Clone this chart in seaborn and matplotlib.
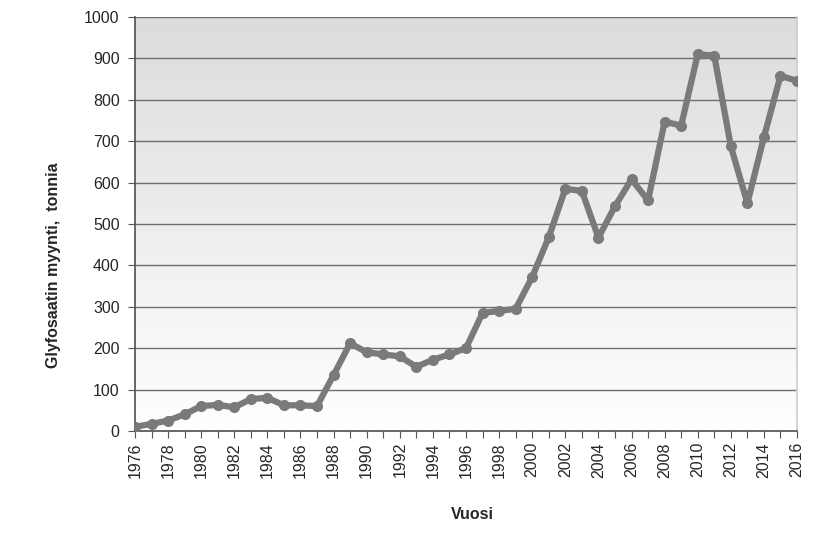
import numpy as np
import pandas as pd
import matplotlib
matplotlib.use("Agg")
import matplotlib.pyplot as plt
import seaborn as sns
from matplotlib.colors import LinearSegmentedColormap

years = list(range(1976, 2017))
sales = [10, 17, 25, 40, 60, 63, 57, 77, 80, 62,
         62, 60, 135, 212, 190, 185, 180, 155, 172, 185,
         200, 285, 290, 295, 372, 468, 585, 580, 467, 543,
         608, 557, 747, 738, 910, 907, 688, 550, 710, 858,
         846]
ytick_vals = list(range(0, 1001, 100))
xtick_labels = [str(y) for y in range(1976, 2017, 2)]

sns.set_theme(style="white")
plt.rcParams['font.family'] = ['Liberation Sans', 'DejaVu Sans']

df = pd.DataFrame({"Vuosi": years, "Myynti": sales})

fig = plt.figure(figsize=(8.28, 5.34), dpi=100)
ax = fig.add_axes([0.163, 0.193, 0.7996, 0.775])

# gradient background
cmap = LinearSegmentedColormap.from_list("bg", ["#ffffff", "#dcdcdc"])
grad = np.linspace(0, 1, 256).reshape(-1, 1)
ax.imshow(grad, extent=[1976, 2016, 0, 1000], origin="lower", aspect="auto",
          cmap=cmap, zorder=0)

for v in ytick_vals[1:]:
    ax.axhline(v, color="#6e6e6e", lw=1.0, zorder=1)

sns.lineplot(data=df, x="Vuosi", y="Myynti", ax=ax, color="#7a7a7a",
             lw=4.5, marker="o", markersize=8, markeredgewidth=0, zorder=3)

ax.set_xlim(1976, 2016)
ax.set_ylim(0, 1000)
ax.set_yticks(ytick_vals)
ax.set_yticklabels([str(v) for v in ytick_vals], fontsize=11.5)
ax.set_xticks(list(range(1976, 2017, 2)))
ax.set_xticklabels(xtick_labels, rotation=90, fontsize=11.5)
ax.set_xticks(years, minor=True)
ax.tick_params(axis="both", which="both", direction="out", length=5, width=0.8,
               color="#555555", bottom=True, left=True)
ax.tick_params(axis="y", pad=6)
ax.tick_params(axis="x", pad=3)

ax.spines["top"].set_visible(False)
ax.spines["right"].set_color("#d0d0d0")
ax.spines["left"].set_color("#555555")
ax.spines["bottom"].set_color("#555555")

ax.set_xlabel("Vuosi", fontsize=11.5, fontweight="bold")
ax.set_ylabel("Glyfosaatin myynti,  tonnia", fontsize=11.5, fontweight="bold")
ax.xaxis.set_label_coords(0.509, -0.183)
ax.yaxis.set_label_coords(-0.112, 0.40)

fig.savefig("out.png", dpi=100)
